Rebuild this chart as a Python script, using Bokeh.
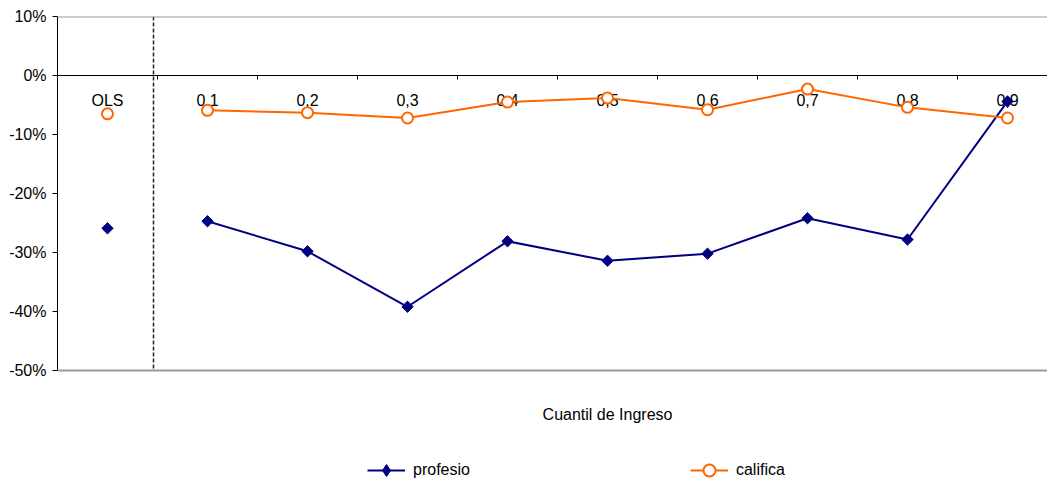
from bokeh.plotting import figure
from bokeh.models import (Range1d, FixedTicker, LinearAxis, Span, Label, Legend, LegendItem)
from bokeh.embed import file_html
from bokeh.resources import INLINE
import math

categories = ["OLS", "0,1", "0,2", "0,3", "0,4", "0,5", "0,6", "0,7", "0,8", "0,9"]
profesio = [-0.259, -0.247, -0.298, -0.392, -0.281, -0.314, -0.302, -0.242, -0.278, -0.044]
califica = [-0.065, -0.059, -0.063, -0.072, -0.045, -0.038, -0.058, -0.023, -0.054, -0.072]
y_ticks = [-0.5, -0.4, -0.3, -0.2, -0.1, 0.0, 0.1]
y_tick_labels = ["-50%", "-40%", "-30%", "-20%", "-10%", "0%", "10%"]
x_title = "Cuantil de Ingreso"
series_names = ["profesio", "califica"]

FONT = "Liberation Sans"
NAVY = "#000080"
ORANGE = "#FF6600"

xs = list(range(len(categories)))

H = 480
TOP = 16
PX_PER_UNIT = 590.0
y_bottom = 0.1 - (H - TOP) / PX_PER_UNIT

p = figure(width=1047, height=H, output_backend="svg", toolbar_location=None,
           x_range=Range1d(-0.5, 9.4), y_range=Range1d(y_bottom, 0.1),
           x_axis_location=None, y_axis_location=None,
           min_border_left=57, min_border_right=0, min_border_top=TOP, min_border_bottom=0)
p.xgrid.visible = False
p.ygrid.visible = False
p.outline_line_color = None
p.background_fill_color = "white"
p.border_fill_color = "white"

# plot-area border lines (top and bottom)
p.add_layout(Span(location=0.1, dimension="width", line_color="#999999", line_width=2))
p.add_layout(Span(location=-0.5, dimension="width", line_color="#999999", line_width=2))

# y axis
yaxis = LinearAxis(ticker=FixedTicker(ticks=y_ticks), bounds=(-0.5, 0.1),
                   major_label_overrides={t: l for t, l in zip(y_ticks, y_tick_labels)})
yaxis.axis_line_color = "black"
yaxis.axis_line_width = 1
yaxis.major_tick_out = 5
yaxis.major_tick_in = 0
yaxis.minor_tick_out = 0
yaxis.minor_tick_in = 0
yaxis.major_label_standoff = 6
yaxis.major_label_text_font = FONT
yaxis.major_label_text_font_size = "16px"
yaxis.major_label_text_color = "black"
p.add_layout(yaxis, "left")

# x axis at y=0
xaxis = LinearAxis(ticker=FixedTicker(ticks=xs, minor_ticks=[i + 0.5 for i in xs]),
                   major_label_overrides={i: c for i, c in zip(xs, categories)},
                   fixed_location=0)
xaxis.axis_line_color = "black"
xaxis.axis_line_width = 1
xaxis.major_tick_out = 0
xaxis.major_tick_in = 0
xaxis.minor_tick_out = 4
xaxis.minor_tick_in = 0
xaxis.minor_tick_line_color = "black"
xaxis.major_label_standoff = 12
xaxis.major_label_text_font = FONT
xaxis.major_label_text_font_size = "16px"
xaxis.major_label_text_color = "black"
xaxis.level = "underlay"
p.add_layout(xaxis, "below")

# dashed separator between OLS and quantiles
p.segment(x0=[0.46], y0=[0.1], x1=[0.46], y1=[-0.5], line_color="#222222",
          line_dash="4 2", line_width=1.5)

# series
q_x = xs[1:]
r1l = p.line(q_x, profesio[1:], line_color=NAVY, line_width=2)
r1m = p.scatter(q_x, profesio[1:], marker="square", size=8, angle=math.pi / 4,
                fill_color=NAVY, line_color=NAVY)
r1o = p.scatter([xs[0]], [profesio[0]], marker="square", size=8, angle=math.pi / 4,
                fill_color=NAVY, line_color=NAVY)
r2l = p.line(q_x, califica[1:], line_color=ORANGE, line_width=2)
r2m = p.scatter(q_x, califica[1:], marker="circle", size=11, fill_color="white",
                line_color=ORANGE, line_width=2)
r2o = p.scatter([xs[0]], [califica[0]], marker="circle", size=11, fill_color="white",
                line_color=ORANGE, line_width=2)

# hidden renderer used only for the diamond key in the legend
leg_d = p.scatter([xs[0]], [profesio[0]], marker="diamond", size=14,
                  fill_color=NAVY, line_color=NAVY, visible=False)

# x-axis title
p.add_layout(Label(x=5.0, y=-0.5746, text=x_title, text_font=FONT,
                   text_font_size="16px", text_align="center", text_baseline="middle",
                   text_color="black"))

legend = Legend(items=[LegendItem(label=series_names[0], renderers=[r1l, leg_d]),
                       LegendItem(label=series_names[1], renderers=[r2l, r2m])],
                orientation="horizontal", location=(310, -5),
                glyph_width=38, glyph_height=30, label_standoff=8, spacing=220,
                padding=0, margin=0, border_line_color=None, background_fill_alpha=0,
                label_text_font=FONT, label_text_font_size="16px", label_text_color="black")
p.add_layout(legend, "center")

open("out.html", "w").write(file_html(p, INLINE))
